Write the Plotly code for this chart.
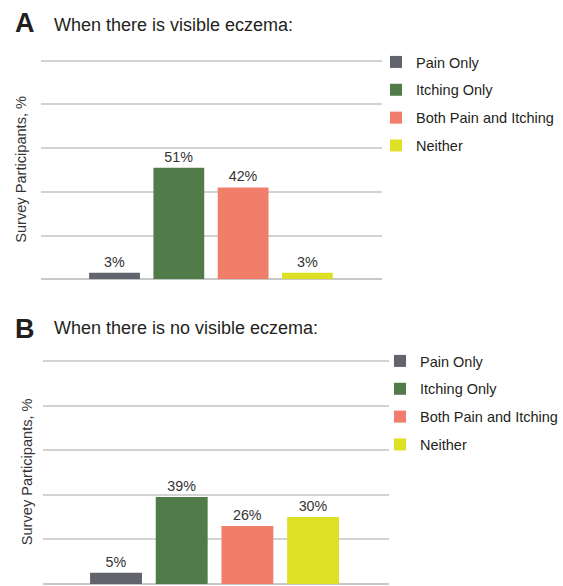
import plotly.graph_objects as go

categories = ["Pain Only", "Itching Only", "Both Pain and Itching", "Neither"]
visible_values = [3, 51, 42, 3]
not_visible_values = [5, 39, 26, 30]
colors = ["#61636d", "#517b49", "#f07e6b", "#dde024"]
panel_letters = ["A", "B"]
panel_titles = ["When there is visible eczema:", "When there is no visible eczema:"]
y_title = "Survey Participants, %"

W, H = 563, 586
FONT = "Liberation Sans, Arial, sans-serif"

fig = go.Figure()

panels = [
    dict(vals=visible_values, xa="x", ya="y", legend="legend"),
    dict(vals=not_visible_values, xa="x2", ya="y2", legend="legend2"),
]

for p in panels:
    for i, (cat, v, c) in enumerate(zip(categories, p["vals"], colors)):
        fig.add_trace(go.Bar(
            x=[i], y=[v], name=cat, marker=dict(color=c, line=dict(width=0)),
            width=0.79, text=[f"{v}%"], textposition="outside",
            textfont=dict(size=14.3, color="#333333", family=FONT),
            cliponaxis=False,
            xaxis=p["xa"], yaxis=p["ya"], legend=p["legend"],
            legendgroup=f"{p['legend']}_{i}",
        ))

def px_x(v):
    return v / W

def px_y(v):
    return 1 - v / H

grid = dict(showgrid=True, gridcolor="#d3d3d3", gridwidth=2, zeroline=True,
            zerolinecolor="#c8c8c8", zerolinewidth=2, showticklabels=False,
            ticks="", showline=False, range=[0, 100.6], dtick=20, tick0=0,
            title=dict(text=y_title, font=dict(size=14.6, color="#333333", family=FONT)))

fig.update_layout(
    width=W, height=H,
    margin=dict(l=0, r=0, t=0, b=0),
    paper_bgcolor="white", plot_bgcolor="white",
    barmode="overlay",
    font=dict(family=FONT, color="#231f20"),
    xaxis=dict(domain=[px_x(40.7), px_x(381.7)], range=[-1.148, 4.155],
               showgrid=False, showticklabels=False, zeroline=False, ticks=""),
    yaxis=dict(domain=[px_y(279.3), px_y(59.4)], **{**grid, "title": dict(grid["title"], standoff=9)}),
    xaxis2=dict(domain=[px_x(43.3), px_x(388.7)], range=[-1.107, 4.151], anchor="y2",
                showgrid=False, showticklabels=False, zeroline=False, ticks=""),
    yaxis2=dict(domain=[px_y(584), px_y(359.7)], anchor="x2", **{**grid, "title": dict(grid["title"], standoff=6)}),
    legend=dict(x=px_x(376), y=px_y(46), xanchor="left", yanchor="top",
                font=dict(size=14.5, color="#231f20", family=FONT),
                tracegroupgap=6, traceorder="grouped", bgcolor="rgba(0,0,0,0)"),
    legend2=dict(x=px_x(380), y=px_y(345), xanchor="left", yanchor="top",
                 font=dict(size=14.5, color="#231f20", family=FONT),
                 tracegroupgap=6, traceorder="grouped", bgcolor="rgba(0,0,0,0)"),
)

title_pos = [(22.6, 25), (328.5, 327.5)]
for letter, title, (ly, ty) in zip(panel_letters, panel_titles, title_pos):
    fig.add_annotation(text=f"<b>{letter}</b>", x=px_x(13), y=px_y(ly), xref="paper", yref="paper",
                       xanchor="left", yanchor="middle", showarrow=False,
                       font=dict(size=27, color="#231f20", family=FONT))
    fig.add_annotation(text=title, x=px_x(52), y=px_y(ty), xref="paper", yref="paper",
                       xanchor="left", yanchor="middle", showarrow=False,
                       font=dict(size=18, color="#231f20", family=FONT))

fig.write_html("out.html")
